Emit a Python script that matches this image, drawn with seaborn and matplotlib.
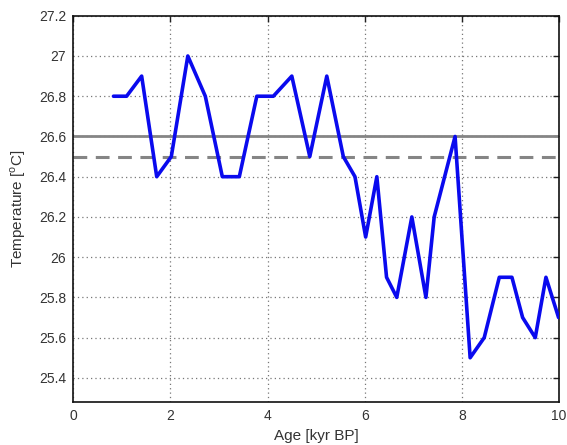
import matplotlib
matplotlib.use("Agg")
import matplotlib.pyplot as plt
import seaborn as sns
import pandas as pd

age = [0.83, 1.10, 1.41, 1.72, 2.02, 2.36, 2.72, 3.07, 3.42, 3.78, 4.12, 4.50,
       4.87, 5.22, 5.56, 5.80, 6.02, 6.25, 6.45, 6.66, 6.97, 7.26, 7.43, 7.86,
       8.17, 8.46, 8.77, 9.03, 9.25, 9.51, 9.73, 9.99]
temp = [26.8, 26.8, 26.9, 26.4, 26.5, 27.0, 26.8, 26.4, 26.4, 26.8, 26.8, 26.9,
        26.5, 26.9, 26.5, 26.4, 26.1, 26.4, 25.9, 25.8, 26.2, 25.8, 26.2, 26.6,
        25.5, 25.6, 25.9, 25.9, 25.7, 25.6, 25.9, 25.7]
ref_solid = 26.6
ref_dashed = 26.5
xticks = [0, 2, 4, 6, 8, 10]
yticks = [25.4, 25.6, 25.8, 26.0, 26.2, 26.4, 26.6, 26.8, 27.0, 27.2]
ytick_labels = ["25.4", "25.6", "25.8", "26", "26.2", "26.4", "26.6", "26.8", "27", "27.2"]

sns.set_style("white")
plt.rcParams['font.family'] = ['Liberation Sans', 'DejaVu Sans']
plt.rcParams['mathtext.fontset'] = 'custom'
plt.rcParams['mathtext.rm'] = 'Liberation Sans'

df = pd.DataFrame({"age": age, "temp": temp})

fig = plt.figure(figsize=(5.67, 4.45), dpi=100)
ax = fig.add_axes([0.129, 0.0966, 0.857, 0.868])

ax.axhline(ref_solid, color="#858585", lw=2.0, zorder=2)
ax.axhline(ref_dashed, color="#858585", lw=2.2, ls=(0, (4.5, 2.8)), zorder=2)
sns.lineplot(data=df, x="age", y="temp", ax=ax, color="#0a0aee", lw=2.6,
             zorder=3, estimator=None, sort=False)

ax.set_xlim(0, 10)
ax.set_ylim(25.28, 27.2)
ax.set_xticks(xticks)
ax.set_yticks(yticks)
ax.set_yticklabels(ytick_labels)
ax.grid(True, ls=(0, (1, 2.5)), color="#777777", lw=0.9)
ax.tick_params(direction="in", length=4, width=1, top=True, right=True,
               labelsize=10, colors="#222222", labelcolor="#333333", pad=5)
for s in ax.spines.values():
    s.set_color("#111111")
    s.set_linewidth(1.2)
ax.set_xlabel("Age [kyr BP]", fontsize=11, color="#333333", labelpad=4)
ax.set_ylabel(r"Temperature [$^\mathrm{o}$C]", fontsize=11, color="#333333", labelpad=8)

fig.savefig("out.png", dpi=100)
